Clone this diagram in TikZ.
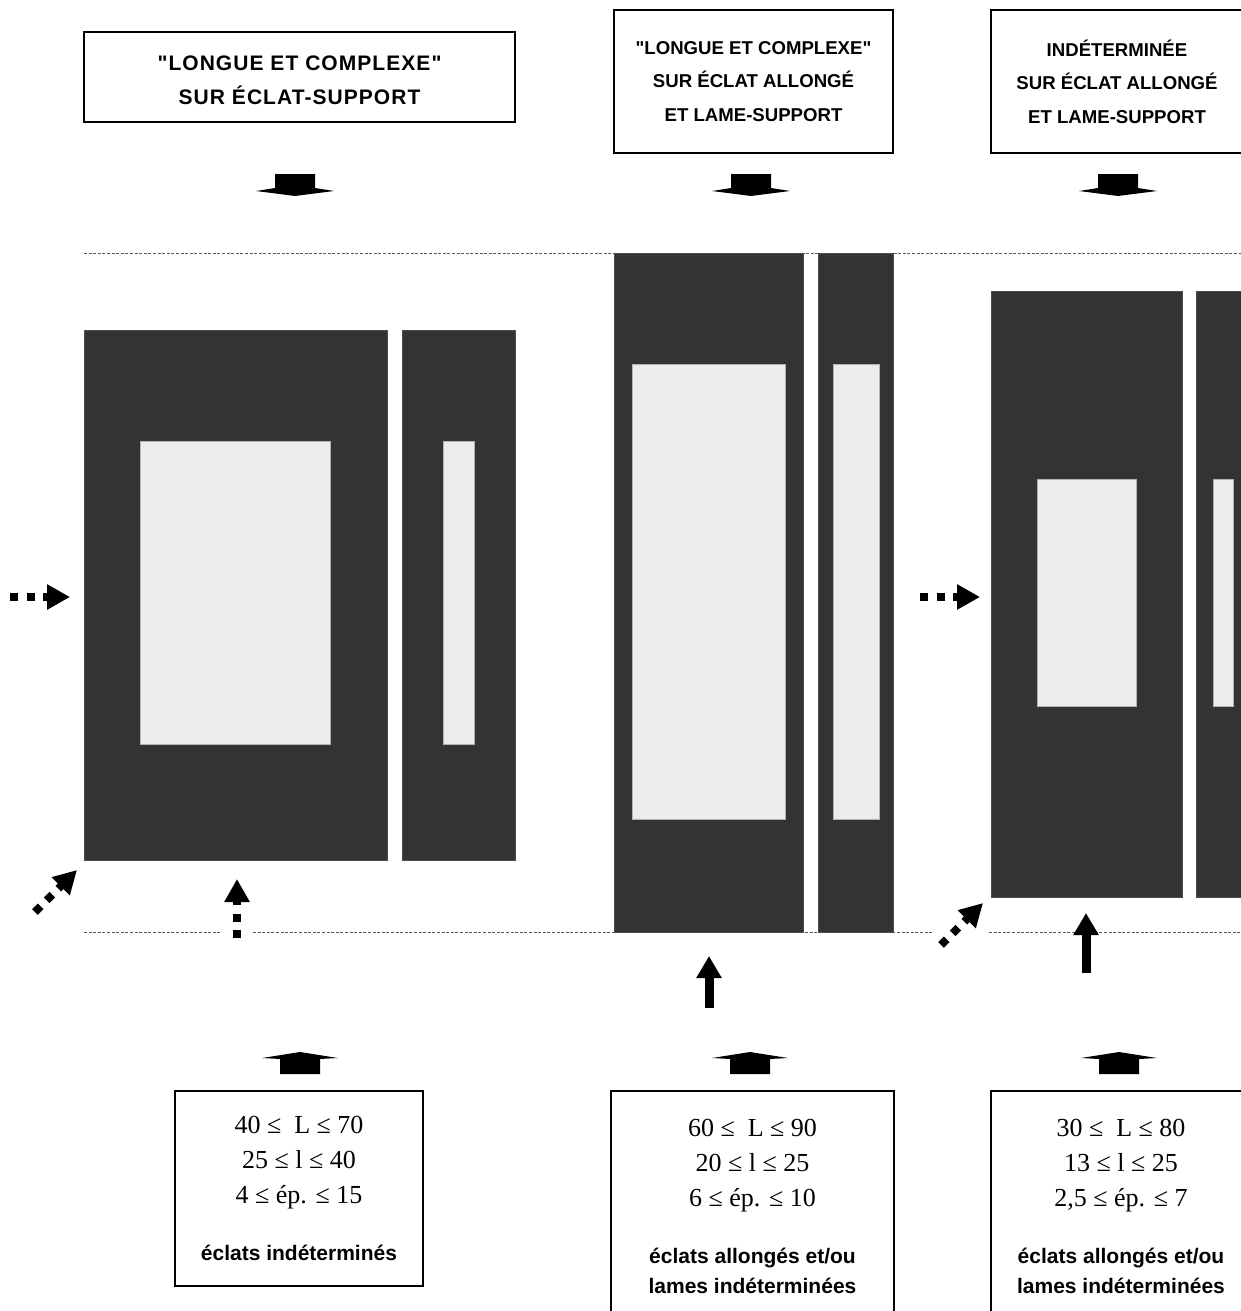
\documentclass[tikz,border=0pt]{standalone}
\usepackage{fontspec}
\setmainfont{Liberation Serif}
\setsansfont{Liberation Sans}[Ligatures=TeXOff]
\usepackage{xcolor}
\usepackage{tikz}
\usetikzlibrary{arrows.meta,positioning}

\definecolor{blockdark}{RGB}{51,51,51}
\definecolor{blocklight}{RGB}{237,237,237}
\newcommand{\tagtext}[1]{{\sffamily\bfseries\fontsize{10.5}{15}\selectfont #1}}

\begin{document}
\begin{tikzpicture}[
    x=0.5pt, y=-0.5pt,
    titlebox/.style={draw, line width=0.8pt, inner sep=0pt, align=center,
      font=\sffamily\bfseries\fontsize{9.3}{16.75}\selectfont},
    databox/.style={draw, line width=0.8pt, inner sep=0pt, align=center,
      font=\fontsize{13}{17.5}\selectfont},
    block/.style={fill=blockdark, draw=gray!60!black, line width=0.3pt},
    window/.style={fill=blocklight, draw=gray!60, line width=0.3pt},
    guide/.style={gray!70!black, line width=0.5pt, dash pattern=on 1.5pt off 0.8pt},
    dotarrow/.style={line width=4pt, dash pattern=on 4pt off 4.25pt,
      -{Triangle[length=11.5pt,width=12pt]}},
    fullarrow/.style={line width=4.5pt, -{Triangle[length=11pt,width=12pt]}},
  ]
  \useasboundingbox (0,0) rectangle (1241,1311);
  \clip (0,0) rectangle (1241,1311);

  % --- Title boxes ---
  % (strut on the first line pushes the text a little below the centre)
  \node[titlebox, minimum width=215.5pt, minimum height=45pt] (title1) at (299.5,77)
    {\addfontfeature{LetterSpace=5}\fontsize{10.5}{16.5}\selectfont\rule{0pt}{10.5pt}"LONGUE ET COMPLEXE"\\
     \addfontfeature{LetterSpace=5}\fontsize{10.5}{16.5}\selectfont SUR ÉCLAT-SUPPORT};
  \node[titlebox, minimum width=139.5pt, minimum height=71.5pt] (title2) at (753.5,81.5)
    {"LONGUE ET COMPLEXE"\\SUR ÉCLAT ALLONGÉ\\ET LAME-SUPPORT};
  \node[titlebox, minimum width=126pt, minimum height=71.5pt] (title3) at (1117,81.5)
    {\rule{0pt}{6.7pt}INDÉTERMINÉE\\SUR ÉCLAT ALLONGÉ\\ET LAME-SUPPORT};

  % down arrows under the titles
  \foreach \cx in {295,751,1118} {
    \fill (\cx-20,174) -- (\cx+20,174) -- (\cx+20,188) -- (\cx+39,191) -- (\cx,196)
      -- (\cx-39,191) -- (\cx-20,188) -- cycle;
  }

  % --- Guide lines ---
  \draw[guide] (84,253) -- (1241,253);
  \draw[guide] (84,932) -- (221,932);
  \draw[guide] (253,932) -- (933,932);
  \draw[guide] (989,932) -- (1241,932);

  % --- Blocks ---
  % left: eclat-support
  \draw[block] (84,330) rectangle (387,860);
  \draw[block] (402,330) rectangle (515,860);
  \draw[window] (140,441) rectangle (330,744);
  \draw[window] (443,441) rectangle (474,744);
  % middle: eclat allonge / lame
  \draw[block] (614,253) rectangle (803,932);
  \draw[block] (818,253) rectangle (893,932);
  \draw[window] (632,364) rectangle (785,819);
  \draw[window] (833,364) rectangle (879,819);
  % right: indeterminee
  \draw[block] (991,291) rectangle (1182,897);
  \draw[block] (1196,291) rectangle (1260,897);
  \draw[window] (1037,479) rectangle (1136,706);
  \draw[window] (1213,479) rectangle (1233,706);

  % --- Side arrows ---
  \coordinate (inL) at (10,597);   \coordinate (inLtip) at (70,597);
  \coordinate (inR) at (920,597);  \coordinate (inRtip) at (980,597);
  \coordinate (diagL) at (35,912); \coordinate (diagLtip) at (77,870);
  \coordinate (diagR) at (941,945); \coordinate (diagRtip) at (983,903);
  \coordinate (upL) at (237,938);  \coordinate (upLtip) at (237,879);
  \coordinate (upM) at (709,1008); \coordinate (upMtip) at (709,956);
  \coordinate (upR) at (1086,973); \coordinate (upRtip) at (1086,913);
  \draw[dotarrow] (inL) -- (inLtip);
  \draw[dotarrow] (inR) -- (inRtip);
  \draw[dotarrow] (diagL) -- (diagLtip);
  \draw[dotarrow] (diagR) -- (diagRtip);
  \draw[dotarrow] (upL) -- (upLtip);
  \draw[fullarrow] (upM) -- (upMtip);
  \draw[fullarrow] (upR) -- (upRtip);

  % up arrows over the data boxes
  \foreach \cx in {300,750,1119} {
    \fill (\cx-20,1074) -- (\cx+20,1074) -- (\cx+20,1059) -- (\cx+38,1058) -- (\cx,1052)
      -- (\cx-38,1058) -- (\cx-20,1059) -- cycle;
  }

  % --- Data boxes ---
  \node[databox, minimum width=124pt, minimum height=97.5pt] (data1) at (299,1188.5)
    {40 ≤\ \ L ≤ 70\\25 ≤ l ≤ 40\\4 ≤ ép. ≤ 15\\[11pt]\tagtext{éclats indéterminés}};
  \node[databox, minimum width=141.5pt, minimum height=115pt] (data2) at (752.5,1206)
    {60 ≤\ \ L ≤ 90\\20 ≤ l ≤ 25\\6 ≤ ép. ≤ 10\\[11pt]\tagtext{éclats allongés et/ou}\\[-2.5pt]\tagtext{lames indéterminées}};
  \node[databox, minimum width=130pt, minimum height=115pt] (data3) at (1121,1206)
    {30 ≤\ \ L ≤ 80\\13 ≤ l ≤ 25\\2,5 ≤ ép. ≤ 7\\[11pt]\tagtext{éclats allongés et/ou}\\[-2.5pt]\tagtext{lames indéterminées}};
\end{tikzpicture}
\end{document}
